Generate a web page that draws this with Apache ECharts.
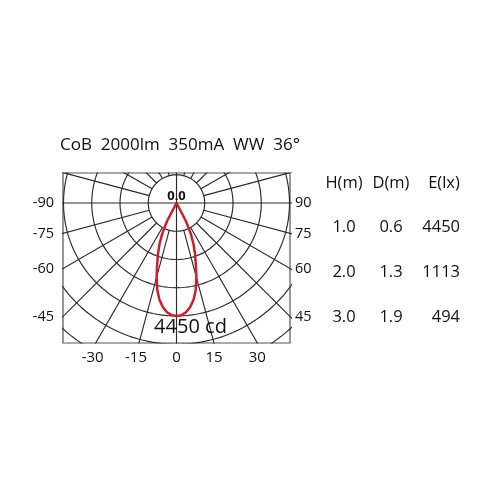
<!DOCTYPE html>
<html>
<head>
<meta charset="utf-8">
<script src="https://cdn.jsdelivr.net/npm/echarts@6/dist/echarts.min.js"></script>
<style>
html,body{margin:0;padding:0;background:#fff;}
#chart{width:500px;height:500px;}
</style>
</head>
<body>
<div id="chart"></div>
<script>
// ---- data ----
const titleText = 'CoB  2000lm  350mA  WW  36°';
const angles = [0, 2.5, 5, 7.5, 10, 12.5, 15, 17.5, 20, 22.5, 25, 27.5, 30];   // degrees from nadir
const candela = [4450, 4420, 4320, 4130, 3870, 3500, 3030, 2530, 2130, 1750, 1330, 800, 0]; // cd
const maxLabel = '4450 cd';
const centerLabel = '0.0';
const bottomTicks = [-30, -15, 0, 15, 30];
const sideTicks = [90, 75, 60, 45];
const tableHeader = ['H(m)', 'D(m)', 'E(lx)'];
const tableH = ['1.0', '2.0', '3.0'];
const tableD = ['0.6', '1.3', '1.9'];
const tableE = ['4450', '1113', '494'];

// ---- scale / layout ----
const ringStep = 1112.5;         // cd per grid circle
const xMax = 4470, yMin = -5513, yMax = 1181;
const rad = d => d * Math.PI / 180;

// grid circles
const circleData = [];
for (let k = 1; k <= 6; k++) {
  for (let a = 0; a <= 360; a += 2) {
    circleData.push([k * ringStep * Math.sin(rad(a)), k * ringStep * Math.cos(rad(a))]);
  }
  circleData.push('-');
}
// spokes every 15 deg starting at first circle
const spokeData = [];
for (let a = 0; a < 360; a += 15) {
  const full = (a % 90 === 0);
  const r0 = full ? 0 : ringStep;
  const r1 = 8 * ringStep;
  spokeData.push([r0 * Math.sin(rad(a)), r0 * Math.cos(rad(a))]);
  spokeData.push([r1 * Math.sin(rad(a)), r1 * Math.cos(rad(a))]);
  spokeData.push('-');
}
// candela curve (symmetric)
const curve = [];
for (let i = angles.length - 1; i >= 0; i--) {
  const a = -angles[i], I = candela[i];
  curve.push([I * Math.sin(rad(a)), -I * Math.cos(rad(a))]);
}
for (let i = 1; i < angles.length; i++) {
  const a = angles[i], I = candela[i];
  curve.push([I * Math.sin(rad(a)), -I * Math.cos(rad(a))]);
}

const bottomLabelData = bottomTicks.map(t => ({
  value: [-yMin * Math.tan(rad(t)), yMin],
  label: { formatter: String(t), offset: [t < 0 ? -3 : 0, 0] }
}));
const leftLabelData = sideTicks.map(t => ({
  value: [-xMax, -xMax * Math.tan(rad(90 - t))],
  label: { formatter: String(-t) }
}));
const rightLabelData = sideTicks.map(t => ({
  value: [xMax, -xMax * Math.tan(rad(90 - t))],
  label: { formatter: String(t) }
}));

const textFont = '"Open Sans", "Noto Sans", sans-serif';
const txt = '#111';
const tableCols = [344, 391, 460];
const tableRows = [227, 272, 317];
const graphics = [];
tableHeader.forEach((h, i) => {
  graphics.push({ type: 'text', x: [344, 391, 444][i], y: 183,
    style: { text: h, font: '16.5px ' + textFont, fill: txt, align: 'center', verticalAlign: 'middle' } });
});
[tableH, tableD, tableE].forEach((col, c) => {
  col.forEach((v, r) => {
    graphics.push({ type: 'text', x: tableCols[c], y: tableRows[r],
      style: { text: v, font: '16.5px ' + textFont, fill: txt, align: c === 2 ? 'right' : 'center', verticalAlign: 'middle' } });
  });
});

const labelSeries = (data, label) => ({
  type: 'scatter', symbolSize: 0, clip: false, silent: true, z: 6,
  itemStyle: { opacity: 1 }, data,
  label: Object.assign({ show: true, color: txt, fontFamily: textFont, opacity: 1 }, label)
});

const chart = echarts.init(document.getElementById('chart'), null, { renderer: 'canvas' });
chart.setOption({
  animation: false,
  backgroundColor: '#fff',
  title: {
    text: titleText, left: 60, top: 137, padding: 0,
    textStyle: { fontFamily: textFont, fontSize: 17, fontWeight: 'normal', color: txt }
  },
  grid: { left: 63, top: 173, width: 227, height: 170, show: true, borderColor: '#555', borderWidth: 1.2, backgroundColor: 'transparent' },
  xAxis: { type: 'value', min: -xMax, max: xMax, show: false },
  yAxis: { type: 'value', min: yMin, max: yMax, show: false },
  graphic: graphics,
  series: [
    { type: 'line', data: circleData, showSymbol: false, silent: true, clip: true,
      lineStyle: { color: '#2a2a2a', width: 1.15 }, z: 1 },
    { type: 'line', data: spokeData, showSymbol: false, silent: true, clip: true,
      lineStyle: { color: '#2a2a2a', width: 1.15 }, z: 1 },
    { type: 'line', data: curve, showSymbol: false, smooth: false, clip: true,
      lineStyle: { color: '#cc1e2c', width: 2.5, join: 'round' }, z: 5 },
    labelSeries([{ value: [0, 0], label: { formatter: centerLabel, position: 'top', distance: 0,
        fontSize: 13, fontWeight: 'bold' } },
      { value: [0, -candela[0]], label: { formatter: maxLabel, position: 'bottom', distance: 1,
        offset: [14, 0], fontSize: 20 } }], {}),
    labelSeries(bottomLabelData, { position: 'bottom', distance: 7, fontSize: 15 }),
    labelSeries(leftLabelData, { position: 'left', distance: 9, fontSize: 14.5 }),
    labelSeries(rightLabelData, { position: 'right', distance: 5, fontSize: 14.5 })
  ]
});
</script>
</body>
</html>
